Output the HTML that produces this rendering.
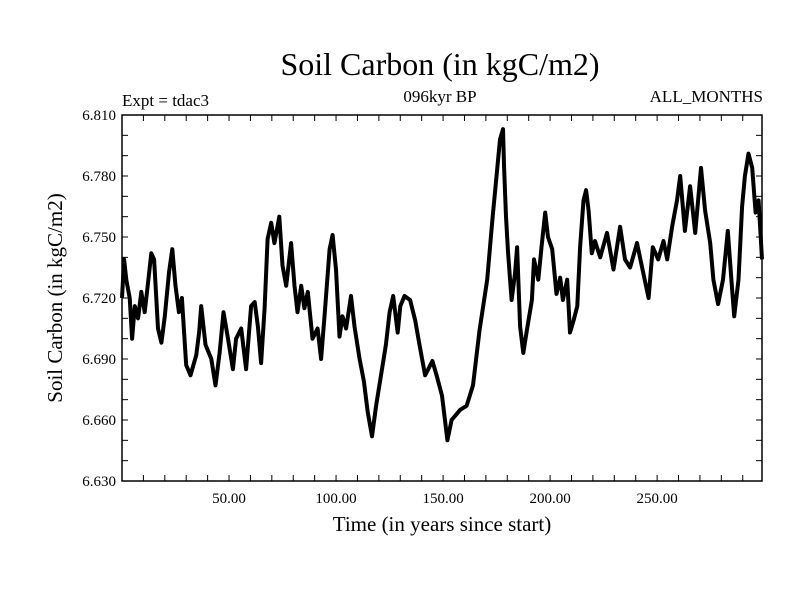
<!DOCTYPE html>
<html><head><meta charset="utf-8"><style>
body{margin:0;background:#fff;}
text{font-family:"Liberation Serif",serif;fill:#000;}
</style></head><body>
<svg id="chart" width="800" height="600" viewBox="0 0 800 600" xmlns="http://www.w3.org/2000/svg">
<rect width="800" height="600" fill="#fff"/>
<text x="440" y="75" font-size="32" text-anchor="middle">Soil Carbon (in kgC/m2)</text>
<text x="122" y="106" font-size="17">Expt = tdac3</text>
<text x="440" y="102" font-size="17" text-anchor="middle">096kyr BP</text>
<text x="763" y="102" font-size="17" text-anchor="end">ALL_MONTHS</text>
<text x="442" y="531" font-size="21" text-anchor="middle">Time (in years since start)</text>
<text x="62" y="298" font-size="21" text-anchor="middle" transform="rotate(-90 62 298)">Soil Carbon (in kgC/m2)</text>
<g id="axes"></g>
<path id="series" fill="none" stroke="#000" stroke-width="4" stroke-linejoin="round"/>
<rect x="122" y="115" width="640" height="366" fill="none" stroke="#000" stroke-width="1.5"/>
</svg>
<script>
const times=[0,1,2,3.6,4.7,6,7.5,9,10.6,12,13.7,15,16.8,18.4,20,22,23.5,25,26.6,28,29,30,32,34.7,36,37,39,41.7,43.7,45.6,47.4,49.5,51.8,53.3,55.7,58,60.3,62,63.5,65,66.6,68,69.7,71.2,73.5,75,76.7,79,80.6,82,83.7,85.2,86.8,89,91.4,93,94.6,97,98.4,100,101.6,103,104.7,107,108.6,111,113,114.8,116.8,118.7,121,123.3,125,126.7,128.8,130,132,134.6,137,139,141.6,145,147,149.5,152,154,158,161,164,167,170.6,173,176.6,178,178.5,179.4,180.4,182,183.6,184.6,186,187.5,189,191.5,192.5,194.5,196,197.7,199,201,203,204.7,206,208,209.3,211,212.7,214,215.6,216.8,218,219.5,221,223.4,226.6,229.6,232.7,235,237.4,240.6,243,246,248,250.5,253,254.7,257,259.3,260.8,263,265.4,267.8,270.5,272.4,274.8,276.3,278.5,280.8,283,285,286,288,289.7,291,292.7,294.4,296,297.4,299];
const values=[6.720,6.739,6.729,6.720,6.700,6.716,6.710,6.723,6.713,6.726,6.742,6.739,6.705,6.698,6.711,6.733,6.744,6.726,6.713,6.720,6.703,6.687,6.682,6.692,6.703,6.716,6.697,6.690,6.677,6.693,6.713,6.700,6.685,6.700,6.705,6.685,6.716,6.718,6.706,6.688,6.715,6.749,6.757,6.747,6.760,6.736,6.726,6.747,6.726,6.713,6.726,6.715,6.723,6.700,6.705,6.690,6.711,6.744,6.751,6.734,6.701,6.711,6.705,6.721,6.706,6.690,6.679,6.664,6.652,6.667,6.682,6.697,6.713,6.721,6.703,6.716,6.721,6.719,6.709,6.697,6.682,6.689,6.682,6.672,6.650,6.660,6.665,6.667,6.677,6.704,6.729,6.758,6.798,6.803,6.784,6.760,6.742,6.719,6.732,6.745,6.706,6.693,6.703,6.719,6.739,6.729,6.745,6.762,6.750,6.744,6.722,6.730,6.719,6.729,6.703,6.709,6.716,6.745,6.768,6.773,6.763,6.742,6.748,6.740,6.752,6.734,6.755,6.739,6.735,6.747,6.735,6.720,6.745,6.739,6.748,6.739,6.755,6.768,6.780,6.753,6.775,6.752,6.784,6.763,6.747,6.729,6.717,6.729,6.753,6.725,6.711,6.729,6.765,6.780,6.791,6.784,6.762,6.768,6.739];
const yTickLabels=["6.630","6.660","6.690","6.720","6.750","6.780","6.810"];
const xTickLabels=["50.00","100.00","150.00","200.00","250.00"];
const X0=122,X1=762,Y0=481,Y1=115,TMIN=0,TMAX=299,VMIN=6.63,VMAX=6.81;
const sx=t=>X0+(t-TMIN)/(TMAX-TMIN)*(X1-X0);
const sy=v=>Y0-(v-VMIN)/(VMAX-VMIN)*(Y0-Y1);
const NS="http://www.w3.org/2000/svg";
const axes=document.getElementById('axes');
function mk(tag,attrs){const e=document.createElementNS(NS,tag);for(const k in attrs)e.setAttribute(k,attrs[k]);axes.appendChild(e);return e;}
for(let i=0;i<=18;i++){const v=VMIN+i*0.01,y=sy(v);
 const a=mk('line',{x1:X0,x2:X0+6,y1:y,y2:y,stroke:'#000','stroke-width':1});
 
 
 const b=mk('line',{x1:X1-6,x2:X1,y1:y,y2:y,stroke:'#000','stroke-width':1});
 
 }
yTickLabels.forEach(l=>{const t=mk('text',{x:X0-6,y:sy(parseFloat(l))+5,'font-size':15,'text-anchor':'end'});t.textContent=l;
 
 });
for(let t=10;t<TMAX;t+=10){const x=sx(t);
 const a=mk('line',{x1:x,x2:x,y1:Y0,y2:Y0-6,stroke:'#000','stroke-width':1});
 
 
 const b=mk('line',{x1:x,x2:x,y1:Y1,y2:Y1+6,stroke:'#000','stroke-width':1});
 
 }
xTickLabels.forEach(l=>{const t=mk('text',{x:sx(parseFloat(l)),y:503,'font-size':15,'text-anchor':'middle'});t.textContent=l;
 
 });
document.getElementById('series').setAttribute('d',times.map((t,i)=>(i?'L':'M')+sx(t).toFixed(1)+','+sy(values[i]).toFixed(1)).join(''));
</script>
</body></html>
